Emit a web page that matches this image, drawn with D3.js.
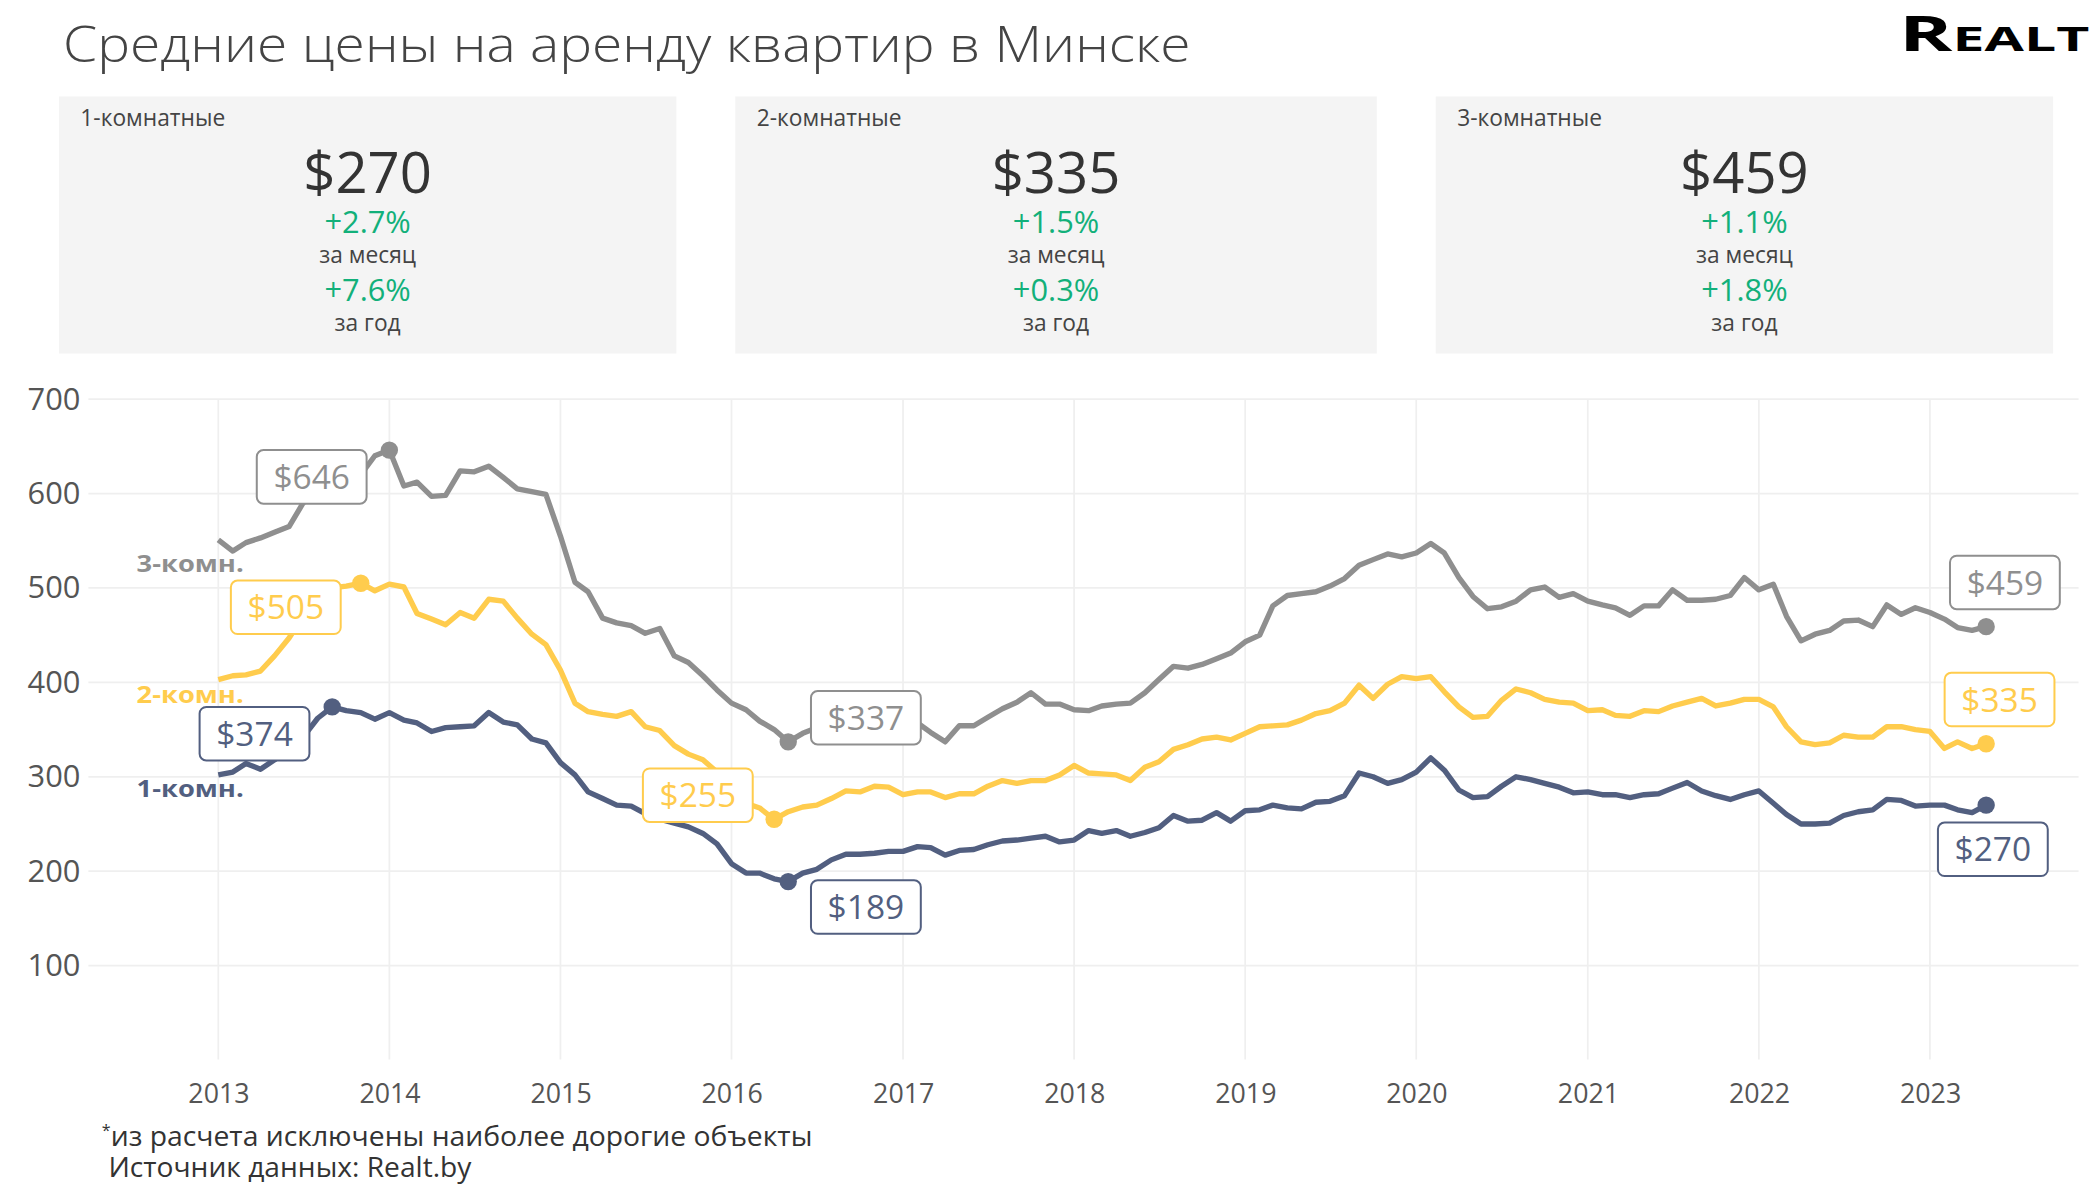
<!DOCTYPE html>
<html>
<head>
<meta charset="utf-8">
<script src="https://cdn.jsdelivr.net/npm/d3@7"></script>
<style>
  body { margin: 0; background: #fff; }
  text { font-family: "Open Sans", "Noto Sans", sans-serif; }
</style>
</head>
<body>
<script>
// monthly values, Jan 2013 .. May 2023
var startYear = 2013;
var oneRoom = [
  302,305,314,308,318,330,342,362,374,370,368,361,368,
  360,357,348,352,353,354,368,358,355,340,336,315,
  302,284,277,270,269,261,255,251,247,240,229,208,
  198,198,192,189,198,202,212,218,218,219,221,221,
  226,225,217,222,223,228,232,233,235,237,231,233,
  243,240,243,237,241,246,259,253,254,262,253,264,
  265,270,267,266,273,274,280,304,300,293,297,305,
  320,307,286,278,279,290,300,297,293,289,283,284,
  281,281,278,281,282,288,294,285,280,276,281,285,
  272,260,250,250,251,259,263,265,276,275,269,270,
  270,265,262,270
];
var twoRoom = [
  403,407,408,412,428,447,470,490,500,502,505,497,504,
  501,473,467,461,474,468,488,486,468,451,440,413,
  378,369,366,364,369,353,349,333,324,318,305,285,
  272,267,255,263,268,270,277,285,284,290,289,281,
  284,284,278,282,282,290,296,293,296,296,302,312,
  304,303,302,296,310,316,329,334,340,342,339,346,
  353,354,355,360,367,370,378,397,383,398,406,404,
  406,390,374,363,364,381,393,389,382,379,378,370,
  371,365,364,370,369,375,379,383,375,378,382,382,
  374,353,337,334,336,344,342,342,353,353,350,348,
  330,337,330,335
];
var threeRoom = [
  551,539,548,553,559,565,590,605,612,615,620,640,646,
  608,612,597,598,624,623,629,617,605,602,599,555,
  506,496,468,463,460,452,457,428,421,407,392,378,
  371,359,350,337,346,352,357,360,358,362,359,353,
  357,347,337,354,354,363,372,379,389,377,377,371,
  370,375,377,378,389,403,417,415,419,425,431,443,
  450,481,492,494,496,502,510,524,530,536,533,537,
  547,537,511,491,478,480,486,498,501,490,494,486,
  482,479,471,481,481,498,487,487,488,492,511,498,
  504,470,444,451,455,465,466,459,482,472,479,474,
  467,458,455,459
];
var seriesNames = ['1-комн.', '2-комн.', '3-комн.'];
var seriesColors = ['#525f80', '#ffcc4d', '#8f8f8f'];
var yTicks = [100, 200, 300, 400, 500, 600, 700];
var xYears = [2013, 2014, 2015, 2016, 2017, 2018, 2019, 2020, 2021, 2022, 2023];

var panelTitles = ['1-комнатные', '2-комнатные', '3-комнатные'];
var panelPrices = ['$270', '$335', '$459'];
var panelMonth = ['+2.7%', '+1.5%', '+1.1%'];
var panelYear = ['+7.6%', '+0.3%', '+1.8%'];

// highlighted points: series index, month index, label offset
var callouts = [
  { s: 2, m: 12, dx: -58, dy: 20 },
  { s: 1, m: 10, dx: -56, dy: 18 },
  { s: 0, m: 8, dx: -58, dy: 20 },
  { s: 2, m: 40, dx: 58, dy: -18 },
  { s: 1, m: 39, dx: -57, dy: -18 },
  { s: 0, m: 40, dx: 58, dy: 19 },
  { s: 2, m: 124, dx: 14, dy: -33 },
  { s: 1, m: 124, dx: 10, dy: -33 },
  { s: 0, m: 124, dx: 5, dy: 33 }
];

var W = 1568, H = 896;
var svg = d3.select('body').append('svg')
  .attr('width', 2100).attr('height', 1200)
  .attr('viewBox', '0 0 ' + W + ' ' + H);

svg.append('text').attr('x', 47).attr('y', 46)
  .attr('font-size', 37).attr('fill', '#444').attr('font-weight', 300)
  .attr('textLength', 842).attr('lengthAdjust', 'spacingAndGlyphs')
  .text('Средние цены на аренду квартир в Минске');

svg.append('text').attr('x', 1418).attr('y', 38)
  .attr('font-family', 'DejaVu Sans').attr('font-weight', 'bold')
  .attr('font-size', 36).attr('fill', '#000')
  .attr('textLength', 142).attr('lengthAdjust', 'spacingAndGlyphs')
  .style('font-variant', 'small-caps')
  .text('Realt');

// panels
var panelX = [44, 549, 1072];
var panelW = [461, 479, 461];
panelTitles.forEach(function (t, i) {
  var g = svg.append('g');
  var cx = panelX[i] + panelW[i] / 2;
  g.append('rect').attr('x', panelX[i]).attr('y', 72)
    .attr('width', panelW[i]).attr('height', 192).attr('fill', '#f4f4f4');
  g.append('text').attr('x', panelX[i] + 16).attr('y', 94)
    .attr('font-size', 17).attr('fill', '#444').text(t);
  g.append('text').attr('x', cx).attr('y', 144).attr('text-anchor', 'middle')
    .attr('font-size', 42).attr('fill', '#333').text(panelPrices[i]);
  g.append('text').attr('x', cx).attr('y', 174).attr('text-anchor', 'middle')
    .attr('font-size', 23).attr('fill', '#12b07a').text(panelMonth[i]);
  g.append('text').attr('x', cx).attr('y', 196).attr('text-anchor', 'middle')
    .attr('font-size', 17).attr('fill', '#444').text('за месяц');
  g.append('text').attr('x', cx).attr('y', 225).attr('text-anchor', 'middle')
    .attr('font-size', 23).attr('fill', '#12b07a').text(panelYear[i]);
  g.append('text').attr('x', cx).attr('y', 247).attr('text-anchor', 'middle')
    .attr('font-size', 17).attr('fill', '#444').text('за год');
});

// scales
var x = d3.scaleTime()
  .domain([new Date(2013, 0, 1), new Date(2023, 0, 1)])
  .range([163, 1441]);
var y = d3.scaleLinear().domain([0, 700]).range([791.5, 298]);
function dateOf(m) { return new Date(startYear, m, 1); }

var grid = svg.append('g');
grid.selectAll('.hg').data(yTicks).enter().append('line')
  .attr('x1', 66).attr('x2', 1552)
  .attr('y1', function (d) { return y(d); }).attr('y2', function (d) { return y(d); })
  .attr('stroke', '#efefef').attr('stroke-width', 1.3);
grid.selectAll('.vg').data(xYears).enter().append('line')
  .attr('x1', function (d) { return x(new Date(d, 0, 1)); })
  .attr('x2', function (d) { return x(new Date(d, 0, 1)); })
  .attr('y1', 298).attr('y2', 791)
  .attr('stroke', '#efefef').attr('stroke-width', 1.3);

var yAxis = svg.append('g').attr('transform', 'translate(60,0)')
  .call(d3.axisLeft(y).tickValues(yTicks).tickSize(0).tickPadding(0));
yAxis.select('.domain').remove();
yAxis.selectAll('text').attr('font-size', 23).attr('fill', '#555')
  .attr('font-family', '"Open Sans", sans-serif');

var xAxis = svg.append('g').attr('transform', 'translate(0,809)')
  .call(d3.axisBottom(x).tickValues(xYears.map(function (d) { return new Date(d, 0, 1); }))
    .tickFormat(d3.timeFormat('%Y')).tickSize(0).tickPadding(0));
xAxis.select('.domain').remove();
xAxis.selectAll('text').attr('font-size', 20).attr('fill', '#555')
  .attr('font-family', '"Open Sans", sans-serif');

var series = [oneRoom, twoRoom, threeRoom];
var line = d3.line()
  .x(function (d, i) { return x(dateOf(i)); })
  .y(function (d) { return y(d); });

[2, 1, 0].forEach(function (s) {
  svg.append('path').datum(series[s]).attr('d', line)
    .attr('fill', 'none').attr('stroke', seriesColors[s])
    .attr('stroke-width', 4).attr('stroke-linejoin', 'round');
});

// series name labels
var nameY = [595, 525, 427];
seriesNames.forEach(function (n, i) {
  svg.append('text').attr('x', 102).attr('y', nameY[i])
    .attr('font-size', 17).attr('font-weight', 'bold')
    .attr('textLength', 80).attr('lengthAdjust', 'spacingAndGlyphs')
    .attr('fill', seriesColors[i]).text(n);
});

callouts.forEach(function (c) {
  var v = series[c.s][c.m];
  var px = x(dateOf(c.m)), py = y(v);
  svg.append('circle').attr('cx', px).attr('cy', py).attr('r', 6.5)
    .attr('fill', seriesColors[c.s]);
  var lx = px + c.dx, ly = py + c.dy;
  svg.append('rect').attr('x', lx - 41).attr('y', ly - 20)
    .attr('width', 82).attr('height', 40).attr('rx', 5)
    .attr('fill', '#fff').attr('stroke', seriesColors[c.s]).attr('stroke-width', 1.5);
  svg.append('text').attr('x', lx).attr('y', ly + 9).attr('text-anchor', 'middle')
    .attr('font-size', 25).attr('fill', seriesColors[c.s]).text('$' + v);
});

svg.append('text').attr('x', 76).attr('y', 856).attr('font-size', 20).attr('fill', '#333')
  .html('<tspan font-size="12" dy="-8">*</tspan><tspan dy="8" textLength="524" lengthAdjust="spacingAndGlyphs">из расчета исключены наиболее дорогие объекты</tspan>');
svg.append('text').attr('x', 81).attr('y', 879).attr('font-size', 20).attr('fill', '#333')
  .attr('textLength', 271).attr('lengthAdjust', 'spacingAndGlyphs')
  .text('Источник данных: Realt.by');
</script>
</body>
</html>
